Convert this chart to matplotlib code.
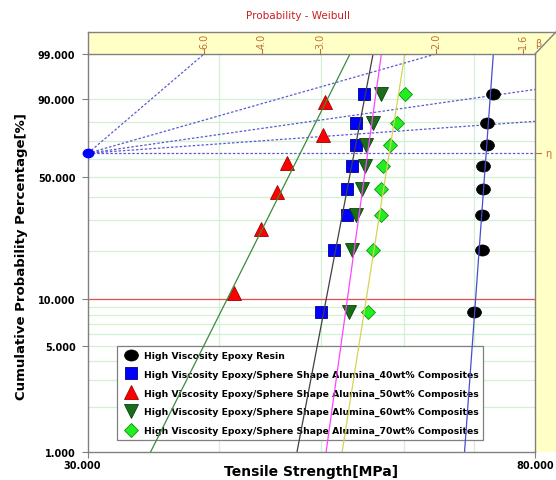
import numpy as np
import matplotlib
matplotlib.use('Agg')
import matplotlib.pyplot as plt
from matplotlib.path import Path
from matplotlib.transforms import Affine2D, ScaledTranslation
from matplotlib.patches import Polygon
from matplotlib.lines import Line2D
from matplotlib.ticker import NullLocator

# ---------------- data ----------------
series_labels = [
    "High Viscosity Epoxy Resin",
    "High Viscosity Epoxy/Sphere Shape Alumina_40wt% Composites",
    "High Viscosity Epoxy/Sphere Shape Alumina_50wt% Composites",
    "High Viscosity Epoxy/Sphere Shape Alumina_60wt% Composites",
    "High Viscosity Epoxy/Sphere Shape Alumina_70wt% Composites",
]
ranks8 = [8.3, 20.2, 32.1, 44.0, 56.0, 67.9, 79.8, 91.7]   # unreliability, %
ranks6 = [10.9, 26.6, 42.2, 57.8, 73.4, 89.1]

resin_x = [69.97, 71.17, 71.27, 71.42, 71.42, 71.95, 72.05, 73.01]
wt40_x = [50.02, 51.50, 52.92, 52.99, 53.50, 53.98, 53.98, 55.01]
wt50_x = [41.33, 43.82, 45.45, 46.40, 50.27, 50.46]
wt60_x = [53.23, 53.58, 54.02, 54.70, 55.10, 55.22, 56.11, 57.03]
wt70_x = [55.50, 56.03, 57.06, 57.06, 57.28, 58.20, 59.06, 60.15]

fit_beta = [97.0, 36.7, 14.0, 50.5, 44.5]
fit_eta = [71.87, 53.79, 47.80, 55.41, 58.10]

y_ticks = [1, 5, 10, 50, 90, 99]
y_tick_labels = ["1.000", "5.000", "10.000", "50.000", "90.000", "99.000"]
y_grid = [2, 3, 4, 5, 6, 7, 8, 9, 20, 30, 40, 50, 60, 70, 80, 90]
x_ticks = [30, 80]
x_tick_labels = ["30.000", "80.000"]
x_grid = [40, 50, 60, 70]
beta_ticks = [6.0, 4.0, 3.0, 2.0, 1.6]
beta_tick_labels = ["6.0", "4.0", "3.0", "2.0", "1.6"]
guide_betas = [6.0, 2.0, 1.0, 0.5, 0.0]

# ---------------- helpers ----------------
def wb(p):
    return np.log(-np.log(1 - np.asarray(p, dtype=float) / 100.0))

W, H = 556, 481
fig = plt.figure(figsize=(W / 100, H / 100), dpi=100)
L, R, B, T = 88, 535, 453, 55
ax = fig.add_axes([L / W, 1 - B / H, (R - L) / W, (B - T) / H])
ax.set_xscale('log')
ax.set_xlim(30, 80)
ylo, yhi = wb(1), wb(99)
ax.set_ylim(ylo, yhi)

gray = '#808080'
orange = '#c0703a'

# yellow frame (top and right bands)
xr = (W - L) / (R - L)
yt = (B - 33) / (B - T)
band = Polygon([(0, 1), (0, yt), (xr, yt), (xr, 0), (1, 0), (1, 1)], closed=True,
               transform=ax.transAxes, facecolor='#ffffc6', edgecolor='none',
               clip_on=False, zorder=0)
ax.add_patch(band)
for xs, ys in [((0, xr), (yt, yt)), ((0, 0), (1, yt)), ((1, xr), (1, yt))]:
    ax.add_line(Line2D(xs, ys, transform=ax.transAxes, color=gray, lw=1,
                       clip_on=False, zorder=1))

# grid
gridc = '#d2f0d2'
for p in y_grid:
    ax.axhline(wb(p), color=gridc, lw=0.9, zorder=1)
for xv in x_grid:
    ax.axvline(xv, color=gridc, lw=0.9, zorder=1)
ax.axhline(wb(10), color='#e05050', lw=0.9, zorder=1.5)

# nomograph guide lines from origin point (30, w=0)
xx = np.geomspace(30, 80, 400)
for b in guide_betas:
    ax.plot(xx, b * np.log(xx / 30.0), color='#5a5ad0', lw=0.9,
            ls=(0, (2.0, 1.5)), zorder=2)
ell = Path.unit_circle().transformed(Affine2D().scale(1.25, 1.0))
ax.plot([30], [0], marker=ell, ms=7.5, color='#0000ff', clip_on=False, zorder=6)

# eta marker on right band
ax.add_line(Line2D([1.0, 1.014], [-ylo / (yhi - ylo)] * 2, transform=ax.transAxes,
                   color=orange, lw=0.8, clip_on=False, zorder=2))
ax.text(1.022, -ylo / (yhi - ylo), '\u03b7', transform=ax.transAxes, color=orange,
        fontsize=7, ha='left', va='center', clip_on=False)

# beta scale on the top
for bv, bl in zip(beta_ticks, beta_tick_labels):
    xb = 30 * np.exp(yhi / bv)
    ax.plot([xb, xb], [yhi, yhi + 0.075], color=orange, lw=0.8, clip_on=False, zorder=2)
    ax.text(xb, yhi + 0.09, bl, rotation=90, color=orange, fontsize=7,
            ha='center', va='bottom', clip_on=False)
fig.text(538 / W, 1 - 44 / H, '\u03b2', color=orange, fontsize=7, ha='center', va='center')

# data markers
styles = [
    dict(marker=ell, ms=10, mfc='black', mec='black', mew=0.5),
    dict(marker='s', ms=9.3, mfc='#0000ff', mec='#000080', mew=0.6),
    dict(marker='^', ms=10, mfc='#ff0000', mec='#a00000', mew=0.6),
    dict(marker='v', ms=10, mfc='#1a6e1a', mec='#0a400a', mew=0.6),
    dict(marker='D', ms=7.2, mfc='#22ee22', mec='#109010', mew=0.6),
]
line_colors = ['#4b4bd0', '#404040', '#3d8a3d', '#ff44ff', '#d4d454']
xs_all = [resin_x, wt40_x, wt50_x, wt60_x, wt70_x]
ys_all = [ranks8, ranks8, ranks6, ranks8, ranks8]

handles = []
for i in range(5):
    h, = ax.plot(xs_all[i], wb(ys_all[i]), ls='none', zorder=3, label=series_labels[i],
                 **styles[i])
    handles.append(h)
    wline = np.linspace(ylo, yhi, 50)
    xline = fit_eta[i] * np.exp(wline / fit_beta[i])
    ax.plot(xline, wline, color=line_colors[i], lw=0.9, zorder=4)

leg = ax.legend(handles=handles, loc='upper left',
                bbox_to_anchor=((117 - L) / (R - L), (B - 347) / (B - T)),
                borderaxespad=0, fancybox=False, framealpha=1, edgecolor=gray,
                prop=dict(weight='bold', size=6.7), handlelength=2.0,
                handletextpad=0.3, borderpad=0.55, labelspacing=1.03)
leg.get_frame().set_linewidth(0.9)
leg.set_zorder(2.5)

# ticks
ax.xaxis.set_minor_locator(NullLocator())
ax.set_xticks(x_ticks)
ax.set_xticklabels(x_tick_labels)
ax.set_yticks(wb(y_ticks))
ax.set_yticklabels(y_tick_labels)
ax.tick_params(axis='both', direction='out', length=4, width=0.8, color=gray,
               labelsize=7)
ax.tick_params(axis='y', pad=5)
ax.tick_params(axis='x', pad=2)
for lab in ax.get_xticklabels() + ax.get_yticklabels():
    lab.set_fontweight('bold')
xl0 = ax.get_xticklabels()[0]
xl0.set_transform(xl0.get_transform() + ScaledTranslation(-6 / 100, 0, fig.dpi_scale_trans))
for s in ax.spines.values():
    s.set_color(gray)
    s.set_linewidth(1)
    s.set_zorder(5)

# titles
fig.text(298 / W, 1 - 16 / H, 'Probability - Weibull', color='#cc2020', fontsize=7.5,
         ha='center', va='center')
fig.text(311 / W, 1 - 472 / H, 'Tensile Strength[MPa]', fontsize=10, fontweight='bold',
         ha='center', va='center')
fig.text(22 / W, 1 - 257 / H, 'Cumulative Probability Percentage[%]', fontsize=9.5,
         fontweight='bold', rotation=90, ha='center', va='center')

fig.savefig('out.png', dpi=100)
